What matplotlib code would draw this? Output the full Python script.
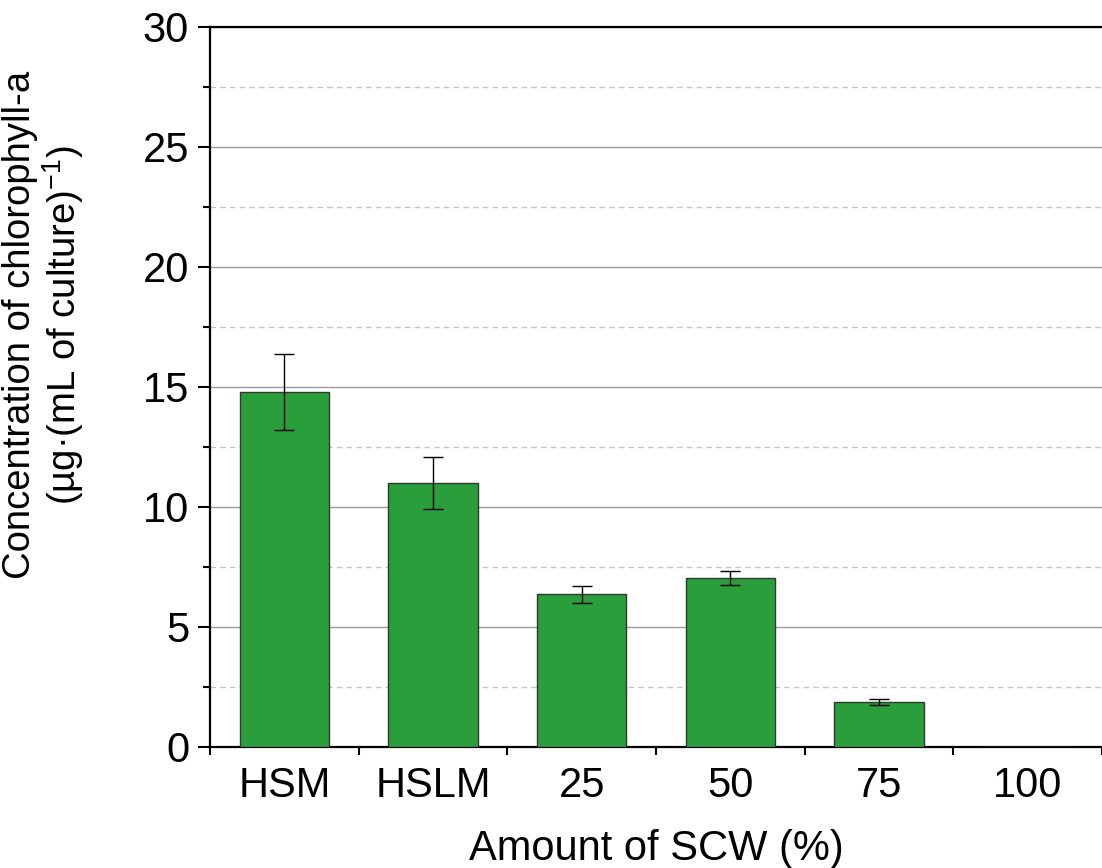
import numpy as np
import matplotlib
matplotlib.use("Agg")
import matplotlib.pyplot as plt
from matplotlib.ticker import MultipleLocator, FixedLocator

plt.rcParams['font.family'] = ['Liberation Sans', 'DejaVu Sans']
plt.rcParams['mathtext.fontset'] = 'custom'
plt.rcParams['mathtext.rm'] = 'Liberation Sans'

# data
categories = ['HSM', 'HSLM', '25', '50', '75', '100']
chl_a = [14.8, 11.0, 6.37, 7.05, 1.89, 0.0]
chl_err = [1.58, 1.1, 0.35, 0.3, 0.12, 0.0]

fig = plt.figure(figsize=(11.02, 8.68), dpi=100)
ax = fig.add_axes([210/1102, 121/868, 892/1102, 720/868])

x = np.arange(len(categories))
ax.bar(x, chl_a, width=0.6, color='#2a9e3a', edgecolor='#2b3a2d', linewidth=1.0, zorder=3)
ax.errorbar(x[:-1], chl_a[:-1], yerr=chl_err[:-1], fmt='none', ecolor='black',
            elinewidth=1.0, capsize=7.5, capthick=1.0, zorder=4)

ax.set_xlim(-0.5, len(categories) - 0.5)
ax.set_ylim(0, 30)

ax.yaxis.set_major_locator(MultipleLocator(5))
ax.yaxis.set_minor_locator(MultipleLocator(2.5))
ax.grid(which='major', axis='y', color='#9a9a9a', linewidth=1.0, linestyle='-')
ax.grid(which='minor', axis='y', color='#c4c4c4', linewidth=1.0, linestyle=(0, (4, 3)))
ax.set_axisbelow(True)

ax.set_xticks(x)
ax.set_xticklabels(categories)
ax.xaxis.set_minor_locator(FixedLocator(np.arange(-0.5, len(categories) + 0.5, 1)))

ax.tick_params(axis='x', which='major', length=0, labelsize=30, pad=14)
ax.tick_params(axis='x', which='minor', length=6, width=1.5, direction='out')
ax.tick_params(axis='y', which='major', length=9, width=1.5, labelsize=30, pad=6)
ax.tick_params(axis='y', which='minor', length=5, width=1.5)

for s in ['left', 'bottom', 'top']:
    ax.spines[s].set_linewidth(1.6)
ax.spines['right'].set_visible(False)

ax.set_xlabel('Amount of SCW (%)', fontsize=30, labelpad=16)
fig.text(44/1102, 1 - 325/868,
         'Concentration of chlorophyll-a\n(µg·(mL of culture)$^{-1}$)',
         rotation=90, ha='center', va='center', multialignment='center',
         fontsize=27.5, linespacing=1.05)

fig.savefig('out.png', dpi=100)
